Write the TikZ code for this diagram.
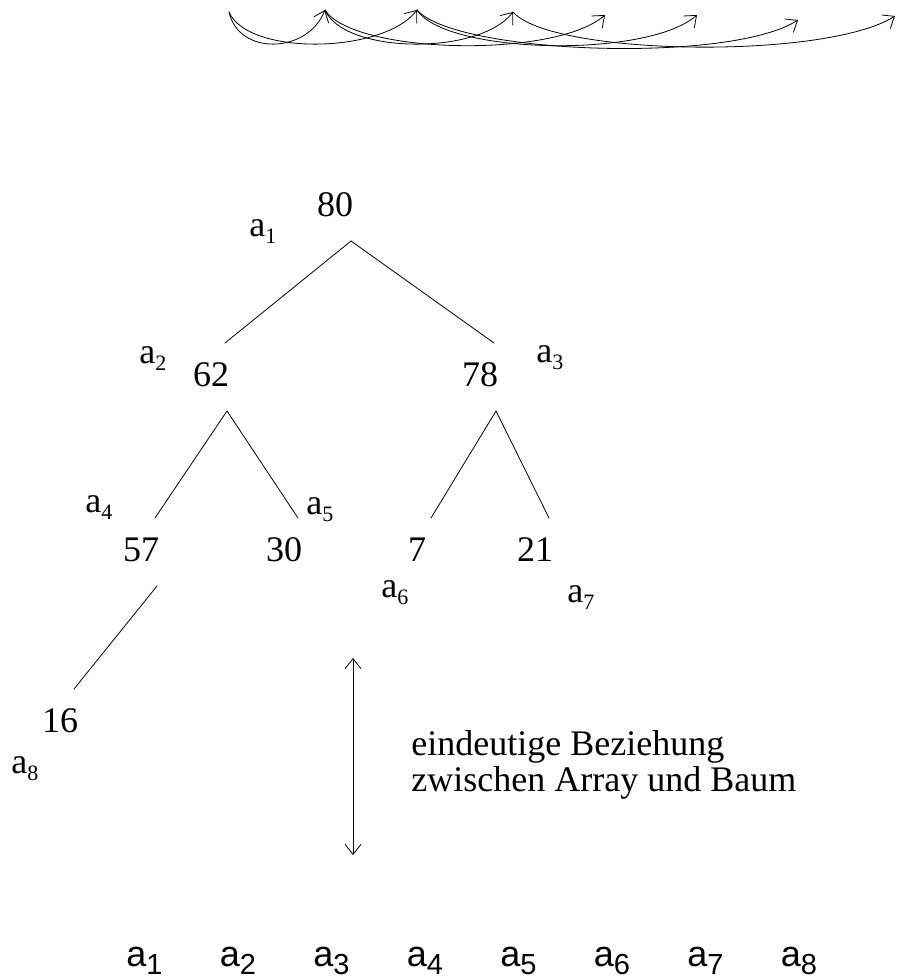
\documentclass[tikz,border=0pt]{standalone}
\usepackage{fontspec}
\setmainfont{Liberation Serif}
\newfontfamily\arialfont{Liberation Sans}
\usetikzlibrary{arrows.meta}
\newcommand{\sub}[1]{a\raisebox{-7pt}{\fontsize{22}{22}\selectfont #1}}
\newcommand{\cellsub}[1]{a\raisebox{-8pt}{\fontsize{29}{29}\selectfont #1}}
\begin{document}
\begin{tikzpicture}[x=1pt, y=-1pt, >={Straight Barb[length=10pt,width=16pt]}, line width=0.8pt, line cap=round, line join=round,
  num/.style={inner sep=0pt, font=\fontsize{36}{36}\selectfont},
  lbl/.style={inner sep=0pt, anchor=base west, font=\fontsize{36}{36}\selectfont},
  cell/.style={inner sep=0pt, anchor=base west, font=\arialfont\fontsize{36}{36}\selectfont}]
\useasboundingbox (0,0) rectangle (901,979);
% arcs from index i to 2i and 2i+1
\foreach \i/\x/\y in {1/229/12, 2/325/10, 3/417/10, 4/513/12, 5/605/15, 6/697/15, 7/798/20, 8/895/16}
  \coordinate (t\i) at (\x,\y);
\foreach \a/\b/\d in {1/2/96, 1/3/188, 2/4/188, 2/5/280, 3/6/280, 3/7/381, 4/8/382}
  \draw[->] (t\a) .. controls +({0.1*\d},44) and +({-0.18*\d},44) .. (t\b);
% heap as tree
\foreach \n/\x/\y/\v in {1/335/205/80, 2/211/375/62, 3/480/375/78, 4/141/550/57, 5/284/550/30, 6/417/550/7, 7/535/550/21, 8/60/721/16}
  \node[num] (n\n) at (\x,\y) {\v};
\foreach \a/\b in {1/2, 1/3, 2/4, 2/5, 3/6, 3/7, 4/8}
  \draw ([shift={(16,36)}]n\a.center) -- ([shift={(14,-32)}]n\b.center);
\foreach \i/\x/\y in {1/249/236, 2/139/363, 3/536/362, 4/85/512, 5/306/514, 6/381/597, 7/567/602, 8/11/773}
  \node[lbl] (l\i) at (\x,\y) {\sub{\i}};
% array and tree
\coordinate (up) at (353,658);
\coordinate (dn) at (353,855);
\draw[<->] (up) -- (dn);
\node[lbl] (txt1) at (411,755) {eindeutige Beziehung};
\node[lbl] (txt2) at (411,791) {zwischen Array und Baum};
\foreach \i in {1,...,8}
  \node[cell] (c\i) at ({126+93.5*(\i-1)},966) {\cellsub{\i}};
\end{tikzpicture}
\end{document}
